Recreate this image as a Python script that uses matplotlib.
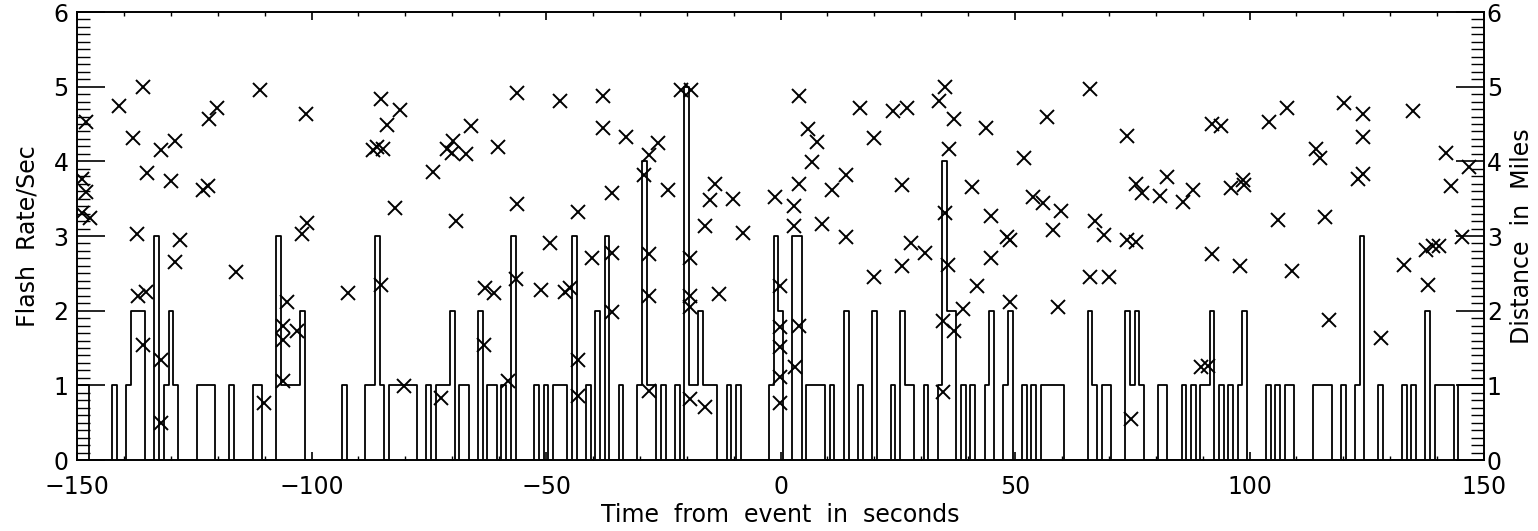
import matplotlib
matplotlib.use("Agg")
import matplotlib.pyplot as plt
from matplotlib.ticker import MultipleLocator

# flashes counted in 1-second bins, t = -150 .. 150
seconds = list(range(-150, 151))
flash_rate = [
    1, 1, 1, 0, 0, 0, 0, 0, 1, 0,   # -150
    0, 1, 2, 2, 2, 0, 0, 3, 0, 1,   # -140
    2, 1, 0, 0, 0, 0, 1, 1, 1, 1,   # -130
    0, 0, 0, 1, 0, 0, 0, 0, 1, 1,   # -120
    0, 0, 0, 3, 1, 1, 1, 1, 2, 0,   # -110
    0, 0, 0, 0, 0, 0, 0, 1, 0, 0,   # -100
    0, 0, 1, 1, 3, 1, 0, 1, 1, 1,   # -90
    1, 1, 1, 0, 0, 1, 0, 1, 1, 1,   # -80
    2, 0, 1, 1, 0, 0, 2, 0, 1, 1,   # -70
    0, 1, 0, 3, 0, 0, 0, 0, 1, 0,   # -60
    1, 0, 1, 1, 1, 0, 3, 0, 0, 1,   # -50
    0, 2, 0, 3, 0, 0, 1, 0, 0, 0,   # -40
    1, 4, 1, 1, 0, 1, 0, 0, 1, 0,   # -30
    5, 1, 1, 2, 1, 1, 1, 0, 0, 1,   # -20
    0, 1, 0, 0, 0, 0, 0, 0, 1, 3,   # -10
    2, 0, 0, 3, 3, 0, 1, 1, 1, 1,   # 0
    0, 1, 0, 0, 2, 0, 0, 1, 0, 0,   # 10
    2, 0, 0, 0, 1, 0, 2, 1, 1, 0,   # 20
    0, 1, 0, 0, 1, 4, 2, 2, 0, 1,   # 30
    0, 1, 0, 0, 1, 2, 0, 0, 1, 2,   # 40
    0, 0, 1, 0, 1, 0, 1, 1, 1, 1,   # 50
    1, 0, 0, 0, 0, 0, 2, 1, 0, 1,   # 60
    1, 0, 0, 0, 2, 1, 2, 1, 0, 0,   # 70
    0, 1, 1, 0, 0, 0, 1, 0, 1, 0,   # 80
    1, 1, 2, 0, 1, 0, 1, 0, 1, 2,   # 90
    0, 0, 0, 0, 1, 0, 1, 0, 1, 1,   # 100
    0, 0, 0, 0, 1, 1, 1, 1, 0, 0,   # 110
    1, 0, 0, 1, 3, 0, 0, 0, 1, 0,   # 120
    0, 0, 0, 1, 0, 1, 0, 0, 2, 0,   # 130
    1, 1, 1, 1, 0, 1, 1, 1, 1, 1,   # 140
    1,                              # 150
]

# individual strikes: time from event (s) and distance (miles)
strike_time = [
    -149.0, -148.1, -148.1, -149.0, -147.2, -141.0, -136.0, -138.1, -135.1, -137.3,
    -136.9, -135.3, -136.0, -132.1, -132.1, -132.1, -129.1, -130.0, -128.0, -129.1,
    -123.1, -122.0, -121.8, -120.1, -116.1, -111.0, -110.1,
    -101.2, -102.1, -101.0, -105.2, -106.1, -106.1, -103.0, -106.1, -92.2, -87.0,
    -86.1, -84.8, -85.1, -84.0, -81.1, -82.2, -85.2, -80.2,
    -74.0, -71.2, -69.9, -70.1, -67.1, -69.1, -66.1, -60.2, -72.3, -63.0,
    -61.2, -63.2, -58.1,
    -56.1, -56.1, -56.4, -51.1, -47.0, -49.2, -46.0, -44.9, -43.1, -43.1,
    -43.1, -40.1,
    -37.9, -37.9, -33.0, -36.0, -36.0, -36.0, -26.1, -28.0, -29.1, -24.1,
    -28.0, -28.0, -28.0, -21.2, -19.0, -19.2, -19.3, -19.3, -19.2,
    -16.1, -14.0, -15.1, -10.1, -8.0, -16.1, -13.1, -1.2, -0.2, -0.2,
    -0.2, -0.2, -0.2,
    4.0, 5.9, 7.8, 6.8, 4.0, 2.9, 2.9, 10.9, 8.9, 13.9, 13.9, 4.0, 3.1,
    16.9, 19.9, 23.9, 26.9, 25.9, 27.9, 30.9, 26.0, 20.0, 33.8, 35.0, 37.0,
    36.0, 35.0, 35.8,
    40.9, 43.9, 44.8, 44.9, 48.2, 49.0, 51.9, 53.9, 55.9, 56.9, 58.0, 59.9,
    41.9, 38.9, 34.7, 37.0, 34.7, 49.0, 59.1,
    65.9, 67.0, 69.0, 65.9, 70.1, 73.9, 73.9, 75.9, 75.9, 77.0, 74.8,
    82.3, 81.0, 85.8, 88.0, 91.9, 94.0, 96.1, 98.6, 98.8, 92.1, 97.9, 89.7, 91.2,
    104.2, 107.9, 106.1, 109.1, 114.1, 115.1, 116.0, 117.0, 120.1, 124.1,
    124.1, 123.1, 124.1, 128.1, 132.9, 134.9, 137.6, 139.1, 140.5, 138.1,
    142.0, 143.0, 145.2, 146.9,
]
strike_dist = [
    3.77, 4.53, 3.59, 3.31, 3.24, 4.74, 5.00, 4.31, 3.84, 3.03,
    2.19, 2.25, 1.54, 4.15, 1.34, 0.50, 4.27, 3.73, 2.95, 2.65,
    3.61, 3.67, 4.57, 4.72, 2.52, 4.96, 0.77,
    4.63, 3.03, 3.18, 2.12, 1.79, 1.61, 1.73, 1.06, 2.24, 4.15,
    4.19, 4.17, 4.83, 4.48, 4.69, 3.38, 2.34, 0.99,
    3.86, 4.17, 4.27, 4.11, 4.10, 3.20, 4.47, 4.19, 0.83, 2.31,
    2.23, 1.54, 1.06,
    4.92, 3.43, 2.42, 2.28, 4.81, 2.91, 2.25, 2.31, 3.32, 1.34,
    0.86, 2.71,
    4.87, 4.44, 4.32, 3.58, 2.77, 1.98, 4.25, 4.08, 3.82, 3.62,
    2.76, 2.20, 0.92, 4.95, 4.95, 2.71, 2.20, 2.05, 0.82,
    3.13, 3.70, 3.48, 3.50, 3.04, 0.71, 2.22, 3.52, 2.33, 1.78,
    1.51, 1.11, 0.76,
    4.87, 4.43, 4.26, 3.99, 3.69, 3.40, 3.13, 3.61, 3.16, 3.82, 2.98, 1.79, 1.25,
    4.71, 4.31, 4.67, 4.71, 3.68, 2.91, 2.77, 2.60, 2.45, 4.81, 5.00, 4.57,
    4.17, 3.31, 2.61,
    3.65, 4.45, 3.27, 2.71, 2.98, 2.95, 4.04, 3.52, 3.44, 4.59, 3.08, 3.34,
    2.33, 2.02, 1.86, 1.73, 0.91, 2.11, 2.05,
    4.97, 3.20, 3.01, 2.45, 2.45, 4.34, 2.95, 2.92, 3.70, 3.58, 0.55,
    3.79, 3.53, 3.46, 3.61, 4.50, 4.47, 3.64, 3.75, 3.68, 2.76, 2.60, 1.24, 1.26,
    4.53, 4.72, 3.22, 2.53, 4.16, 4.04, 3.26, 1.88, 4.78, 4.64,
    4.32, 3.77, 3.83, 1.63, 2.61, 4.68, 2.81, 2.86, 2.86, 2.34,
    4.11, 3.67, 2.99, 3.93,
]

plt.rcParams['font.family'] = 'DejaVu Sans'
FS = 17

fig = plt.figure(figsize=(15.38, 5.31), dpi=100)
ax = fig.add_axes([0.0501, 0.1337, 0.9148, 0.8437])
ax2 = ax.twinx()

ax.plot(seconds, flash_rate, drawstyle='steps-mid', color='black', lw=1.3)
ax2.plot(strike_time, strike_dist, linestyle='none', marker='x',
         color='black', markersize=9.5, markeredgewidth=1.4)

ax.set_xlim(-150, 150)
ax.set_ylim(0, 6)
ax2.set_ylim(0, 6)

ax.xaxis.set_major_locator(MultipleLocator(50))
ax.xaxis.set_minor_locator(MultipleLocator(10))
for a in (ax, ax2):
    a.yaxis.set_major_locator(MultipleLocator(1))
    a.yaxis.set_minor_locator(MultipleLocator(0.1))
    for s in a.spines.values():
        s.set_linewidth(1.2)

ax.tick_params(axis='x', which='major', direction='in', length=6, width=1.2,
               top=True, labelsize=FS, pad=11)
ax.tick_params(axis='x', which='minor', direction='in', length=3, width=1.0, top=True)
ax.tick_params(axis='y', which='major', direction='in', length=20, width=1.2,
               labelsize=FS, pad=6)
ax.tick_params(axis='y', which='minor', direction='in', length=9.5, width=1.0)
ax2.tick_params(axis='y', which='major', direction='in', length=20, width=1.2,
                labelsize=FS, pad=2)
ax2.tick_params(axis='y', which='minor', direction='in', length=9.5, width=1.0)

ax.set_xticks([-150, -100, -50, 0, 50, 100, 150])
ax.set_xticklabels(['\u2212150', '\u2212100', '\u221250', '0', '50', '100', '150'])

ax.set_xlabel('Time  from  event  in  seconds', fontsize=FS, labelpad=3)
ax.set_ylabel('Flash  Rate/Sec', fontsize=FS, labelpad=10)
ax2.set_ylabel('Distance  in  Miles', fontsize=FS, rotation=90, labelpad=6)

fig.savefig('out.png', dpi=100, facecolor='white')
